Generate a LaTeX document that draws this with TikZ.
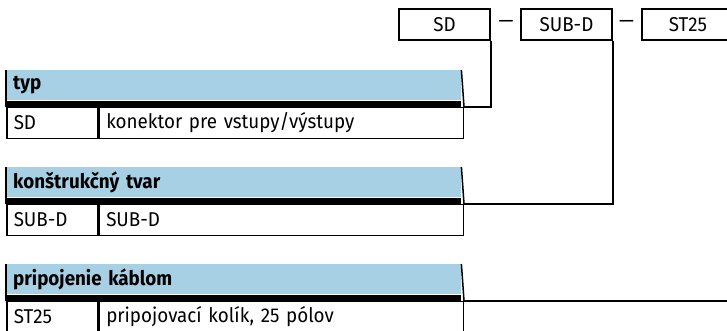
\documentclass[tikz,border=0pt]{standalone}
\usepackage{fontspec}
\setmainfont{Fira Sans}[FakeStretch=0.94]
\usetikzlibrary{positioning,calc}
\definecolor{headblue}{RGB}{168,208,228}
\newcommand{\tabfont}{\fontsize{20}{23}\selectfont}
\tikzset{codebox/.style={draw, line width=1.5pt, minimum width=91pt, minimum height=31pt, inner sep=0pt},
  headcell/.style={fill=headblue, anchor=north west, text width=441pt, inner xsep=7pt, inner ysep=0pt,
    minimum height=30pt, align=left, font=\tabfont\bfseries},
  bandcell/.style={fill=black, anchor=north west, minimum width=455pt, minimum height=6pt, inner sep=0pt},
  codecell/.style={draw, line width=1.5pt, anchor=north west, text width=77pt, inner xsep=7pt, inner ysep=0pt,
    minimum height=31pt, align=left},
  desccell/.style={draw, line width=1.5pt, anchor=north west, text width=350pt, inner xsep=7pt, inner ysep=0pt,
    minimum height=31pt, align=left},
  link/.style={line width=1.5pt}}

\begin{document}
\begin{tikzpicture}[x=1pt, y=1pt, font=\tabfont]
  \useasboundingbox (0,0) rectangle (727,331);
  % order code on top
  \node[codebox] (sd) at (444.5,306.5) {SD};
  \node[codebox] (subd) at (566.5,306.5) {SUB-D};
  \node[codebox, minimum width=92pt] (st) at (688,306.5) {ST25};
  \node (d1) at (506,307) {—};
  \node (d2) at (626.5,307) {—};
  % typ
  \node[headcell] (typ) at (6,261) {typ};
  \node[bandcell] (typband) at (typ.south west) {};
  \node[codecell] (typcode) at (typband.south west) {SD};
  \node[desccell] (typdesc) at (typcode.north east) {konektor pre vstupy/výstupy};
  \draw[link] (typ.north west) -- (typcode.north west);
  \draw[link] (typ.north east) -- (typdesc.north east);
  % konstrukcny tvar
  \node[headcell] (tvar) at (6,164) {konštrukčný tvar};
  \node[bandcell] (tvarband) at (tvar.south west) {};
  \node[codecell] (tvarcode) at (tvarband.south west) {SUB-D};
  \node[desccell] (tvardesc) at (tvarcode.north east) {SUB-D};
  \draw[link] (tvar.north west) -- (tvarcode.north west);
  \draw[link] (tvar.north east) -- (tvardesc.north east);
  % pripojenie kablom
  \node[headcell] (kabel) at (6,67) {pripojenie káblom};
  \node[bandcell] (kabelband) at (kabel.south west) {};
  \node[codecell] (kabelcode) at (kabelband.south west) {ST25};
  \node[desccell] (kabeldesc) at (kabelcode.north east) {pripojovací kolík, 25 pólov};
  \draw[link] (kabel.north west) -- (kabelcode.north west);
  \draw[link] (kabel.north east) -- (kabeldesc.north east);
  % connectors
  \draw[link] (sd.south east) |- (typdesc.north east);
  \draw[link] (subd.south east) |- (tvardesc.north east);
  \draw[link] (st.south east) |- (kabeldesc.north east);
\end{tikzpicture}
\end{document}
